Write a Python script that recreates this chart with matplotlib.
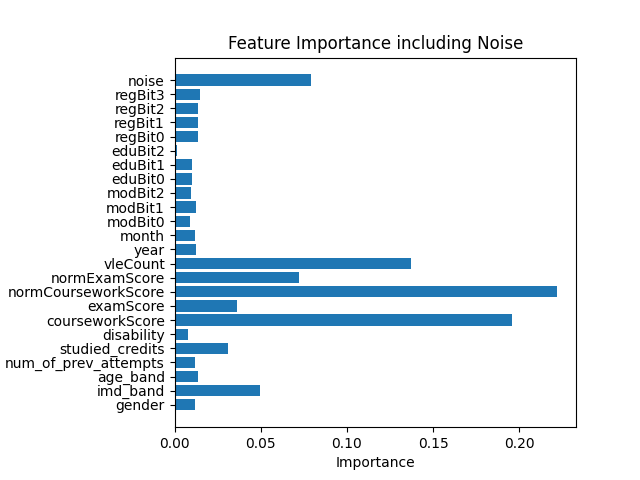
import matplotlib
matplotlib.use("Agg")
import matplotlib.pyplot as plt

features = ["gender", "imd_band", "age_band", "num_of_prev_attempts", "studied_credits",
            "disability", "courseworkScore", "examScore", "normCourseworkScore",
            "normExamScore", "vleCount", "year", "month", "modBit0", "modBit1", "modBit2",
            "eduBit0", "eduBit1", "eduBit2", "regBit0", "regBit1", "regBit2", "regBit3", "noise"]
importance = [0.0115, 0.0493, 0.0138, 0.0115, 0.0307,
              0.0080, 0.1958, 0.0359, 0.2219,
              0.0720, 0.1370, 0.0126, 0.0120, 0.0091, 0.0126, 0.0097,
              0.0103, 0.0103, 0.0016, 0.0138, 0.0138, 0.0138, 0.0144, 0.0790]

fig = plt.figure(figsize=(6.4, 4.8), dpi=100)
plt.barh(range(len(features)), importance, color="#1f77b4")
plt.yticks(range(len(features)), features)
plt.xlabel("Importance")
plt.title("Feature Importance including Noise")
plt.subplots_adjust(left=0.273)
plt.savefig("out.png")
